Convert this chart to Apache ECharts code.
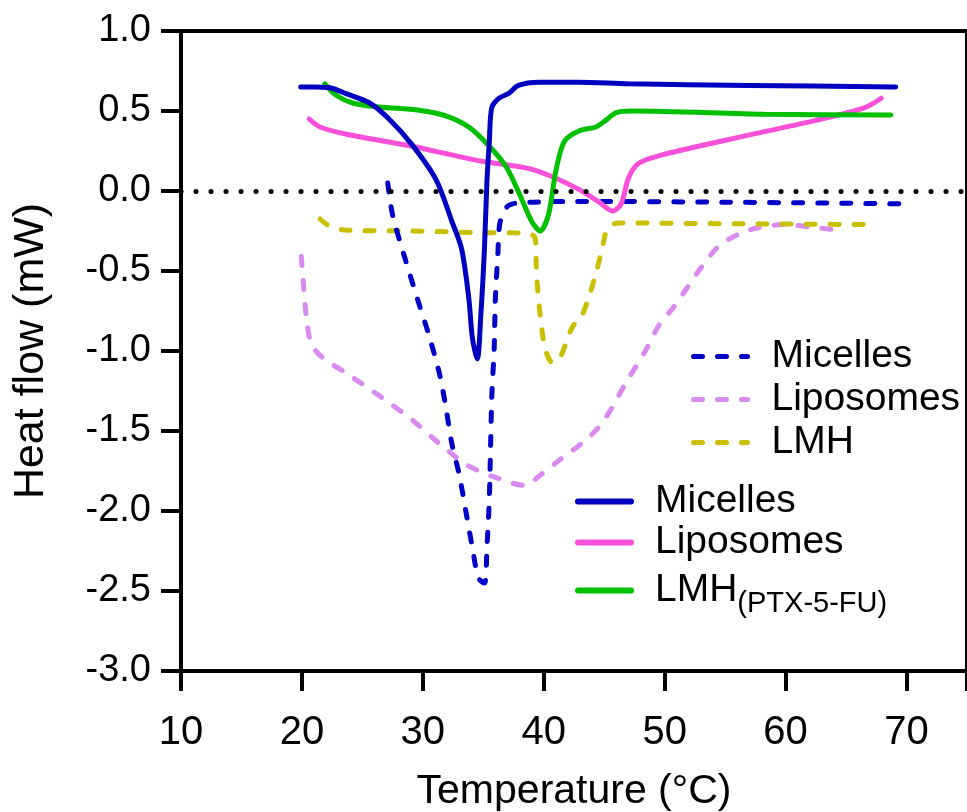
<!DOCTYPE html>
<html>
<head>
<meta charset="utf-8">
<script src="https://cdn.jsdelivr.net/npm/echarts@6/dist/echarts.min.js"></script>
<style>
  html, body { margin: 0; padding: 0; background: #fff; }
  #chart { width: 967px; height: 812px; }
</style>
</head>
<body>
<div id="chart"></div>
<script>
// 数据：[温度 °C, 热流 mW]
const micellesSolid = [[19.9,0.65],[21,0.65],[22.3,0.645],[23.6,0.61],[25.6,0.55],[27.2,0.45],[29.1,0.29],[31.1,0.07],[32.4,-0.19],[33.2,-0.36],[33.8,-0.67],[34.1,-0.92],[34.5,-1.05],[34.8,-0.77],[35.1,-0.35],[35.3,0.06],[35.5,0.31],[35.7,0.52],[36.3,0.58],[37.1,0.61],[37.9,0.66],[39.6,0.68],[42.9,0.68],[47,0.67],[56.9,0.66],[69.1,0.65]];
const liposomesSolid = [[20.6,0.45],[21.5,0.40],[23.7,0.355],[29.1,0.28],[34.6,0.19],[38.8,0.14],[41.0,0.08],[42.9,0.01],[44.5,-0.065],[45.7,-0.125],[46.4,-0.08],[47.0,0.08],[47.8,0.17],[49.5,0.22],[55.5,0.325],[62.4,0.44],[66.5,0.52],[67.9,0.58]];
const lmhSolid = [[21.9,0.67],[22.8,0.60],[24.2,0.55],[26.4,0.525],[29.7,0.505],[31.9,0.47],[33.8,0.40],[35.5,0.28],[36.9,0.15],[38.0,-0.02],[39.0,-0.19],[39.7,-0.25],[40.4,-0.145],[41.0,0.125],[41.7,0.31],[42.9,0.375],[44.3,0.40],[45.1,0.44],[46.0,0.49],[47.3,0.50],[58.3,0.48],[68.7,0.475]];
const micellesDash = [[27.1,0.05],[27.5,-0.15],[28.6,-0.44],[29.7,-0.71],[30.5,-0.90],[31.4,-1.15],[31.9,-1.35],[32.4,-1.58],[33.0,-1.77],[33.6,-2.02],[34.1,-2.23],[34.6,-2.42],[35.1,-2.45],[35.3,-2.23],[35.5,-1.92],[35.6,-1.6],[35.7,-1.29],[35.9,-0.98],[36.0,-0.67],[36.2,-0.40],[36.4,-0.19],[37.1,-0.09],[39.0,-0.07],[42.9,-0.065],[55,-0.07],[69.5,-0.08]];
const liposomesDash = [[19.95,-0.41],[20.1,-0.56],[20.4,-0.81],[20.8,-0.96],[21.7,-1.04],[23.7,-1.14],[26.4,-1.28],[29.1,-1.43],[31.4,-1.58],[33.6,-1.71],[36.0,-1.79],[38.4,-1.84],[39.8,-1.77],[41.5,-1.67],[43.1,-1.58],[44.5,-1.48],[45.6,-1.36],[46.7,-1.21],[48.4,-1.0],[49.6,-0.83],[50.7,-0.73],[51.9,-0.60],[53.0,-0.48],[54.4,-0.35],[56.1,-0.27],[57.7,-0.23],[59.9,-0.21],[62.1,-0.225],[63.8,-0.24]];
const lmhDash = [[21.5,-0.175],[22.3,-0.22],[23.7,-0.245],[29.1,-0.25],[34.6,-0.26],[38.8,-0.265],[39.3,-0.30],[39.4,-0.52],[39.7,-0.77],[40.1,-0.98],[40.7,-1.07],[41.2,-1.06],[41.8,-0.96],[42.3,-0.86],[42.9,-0.80],[43.1,-0.79],[43.7,-0.67],[44.3,-0.52],[44.8,-0.37],[45.3,-0.23],[46.2,-0.20],[56,-0.205],[67.6,-0.21]];

// 图例显示文字
const dashNames = ['Micelles-d', 'Liposomes-d', 'LMH-d'];
const solidNames = ['Micelles-s', 'Liposomes-s', 'LMH-s'];
const legendText = {
  'Micelles-d': 'Micelles', 'Liposomes-d': 'Liposomes', 'LMH-d': 'LMH',
  'Micelles-s': 'Micelles', 'Liposomes-s': 'Liposomes', 'LMH-s': '{a|LMH}{s|(PTX-5-FU)}'
};

const FONT = "'Liberation Sans', Arial, sans-serif";
const DASH = [9, 15];

const myChart = echarts.init(document.getElementById('chart'));

// 折线系列
const lineSeries = (name, data, color, dashed) => ({
  name,
  type: 'line',
  data,
  symbol: 'none',
  smooth: 0.3,
  animation: false,
  lineStyle: { color, width: 5, type: dashed ? DASH : 'solid', cap: 'round' },
  itemStyle: { color },
  emphasis: { disabled: true }
});

const legendBase = {
  orient: 'vertical',
  itemGap: 0,
  selectedMode: false,
  formatter: (name) => legendText[name],
  itemStyle: { opacity: 0 }
};

const option = {
  animation: false,
  grid: {
    left: 181, right: 0, top: 31, bottom: 141,
    outerBoundsMode: 'none', containLabel: false,
    show: true, borderColor: '#000', borderWidth: 4, backgroundColor: 'transparent'
  },
  xAxis: {
    type: 'value', min: 10, max: 75, interval: 10,
    name: 'Temperature (\u00B0C)', nameLocation: 'middle', nameGap: 100,
    nameTextStyle: { fontSize: 41, color: '#000', fontFamily: FONT },
    axisLine: { onZero: false, lineStyle: { color: '#000', width: 4 } },
    axisTick: { length: 20, lineStyle: { color: '#000', width: 4 } },
    axisLabel: {
      fontSize: 40, color: '#000', fontFamily: FONT, margin: 42,
      formatter: (v) => (v % 10 === 0 ? String(v) : '')
    },
    splitLine: { show: false }
  },
  yAxis: {
    type: 'value', min: -3, max: 1, interval: 0.5,
    name: 'Heat flow (mW)', nameLocation: 'middle', nameGap: 128,
    nameTextStyle: { fontSize: 43, color: '#000', fontFamily: FONT },
    axisLine: { onZero: false, lineStyle: { color: '#000', width: 4 } },
    axisTick: { length: 20, lineStyle: { color: '#000', width: 4 } },
    axisLabel: {
      fontSize: 38, color: '#000', fontFamily: FONT, margin: 30,
      formatter: (v) => v.toFixed(1)
    },
    splitLine: { show: false }
  },
  legend: [
    Object.assign({}, legendBase, {
      data: dashNames, left: 686, top: 330, itemWidth: 54, itemHeight: 14,
      lineStyle: { width: 5 },
      textStyle: { fontSize: 39, lineHeight: 43, color: '#000', fontFamily: FONT, padding: [0, 0, 0, 19] }
    }),
    Object.assign({}, legendBase, {
      data: solidNames, left: 570, top: 476, itemWidth: 53, itemHeight: 14,
      lineStyle: { width: 6 },
      textStyle: {
        fontSize: 39, lineHeight: 41, color: '#000', fontFamily: FONT, padding: [0, 0, 0, 19],
        rich: {
          a: { fontSize: 39, fontFamily: FONT, color: '#000' },
          s: { fontSize: 29, lineHeight: 29, fontFamily: FONT, color: '#000', padding: [26, 0, 0, 0] }
        }
      }
    })
  ],
  series: [
    Object.assign(lineSeries('Liposomes-d', liposomesDash, '#D98AEF', true), {
      markLine: {
        silent: true, symbol: 'none', animation: false,
        label: { show: false },
        lineStyle: { color: '#000', width: 5, type: [0.1, 14.9], cap: 'round' },
        emphasis: { disabled: true },
        data: [{ yAxis: 0 }]
      }
    }),
    lineSeries('LMH-d', lmhDash, '#C8C000', true),
    lineSeries('Micelles-d', micellesDash, '#0000C8', true),
    lineSeries('Liposomes-s', liposomesSolid, '#F850D8', false),
    lineSeries('LMH-s', lmhSolid, '#00C000', false),
    lineSeries('Micelles-s', micellesSolid, '#0000C0', false)
  ]
};

myChart.setOption(option);
</script>
</body>
</html>
